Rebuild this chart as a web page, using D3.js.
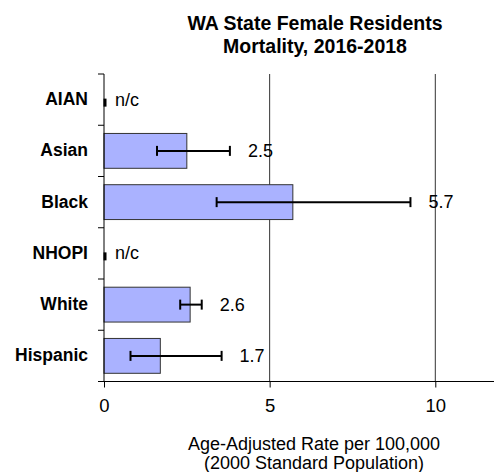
<!DOCTYPE html>
<html>
<head>
<meta charset="utf-8">
<script src="https://cdn.jsdelivr.net/npm/d3@7"></script>
<style>
  html, body { margin: 0; padding: 0; background: #fff; }
  svg { display: block; font-family: Arial, "Liberation Sans", sans-serif; }
</style>
</head>
<body>
<svg id="chart" width="494" height="472"></svg>
<script>
const categories = ["AIAN", "Asian", "Black", "NHOPI", "White", "Hispanic"];
const rates = [null, 2.5, 5.7, null, 2.6, 1.7];
const lowerCI = [null, 1.6, 3.4, null, 2.3, 0.8];
const upperCI = [null, 3.8, 9.25, null, 2.95, 3.55];
const valueLabels = ["n/c", "2.5", "5.7", "n/c", "2.6", "1.7"];
const xTicks = [0, 5, 10];
const titleLines = ["WA State Female Residents", "Mortality, 2016-2018"];
const xTitleLines = ["Age-Adjusted Rate per 100,000", "(2000 Standard Population)"];

(function () {
const svg = d3.select("#chart");
const mLeft = 104, mTop = 74, mBottom = 381.5;
const x = d3.scaleLinear().domain([0, 12]).range([mLeft, mLeft + 12 * 33.13]);
const y = d3.scaleBand().domain(categories).range([mTop, mBottom]).paddingInner(0.32).paddingOuter(0.16);

// gridlines
svg.append("g").selectAll("line").data(xTicks.filter(d => d > 0)).join("line")
  .attr("x1", d => x(d)).attr("x2", d => x(d))
  .attr("y1", mTop).attr("y2", mBottom)
  .attr("stroke", "#333").attr("stroke-width", 1);

const rows = categories.map((c, i) => ({ c, v: rates[i], lo: lowerCI[i], hi: upperCI[i], lab: valueLabels[i] }));

// bars
svg.append("g").selectAll("rect").data(rows.filter(d => d.v != null)).join("rect")
  .attr("x", x(0)).attr("y", d => y(d.c))
  .attr("width", d => x(d.v) - x(0)).attr("height", y.bandwidth())
  .attr("fill", "#aab2ff").attr("stroke", "#333").attr("stroke-width", 1);

// zero marks for n/c
svg.append("g").selectAll("rect").data(rows.filter(d => d.v == null)).join("rect")
  .attr("x", x(0) - 0.5).attr("y", d => y(d.c) + y.bandwidth() / 2 - 1)
  .attr("width", 3).attr("height", 8).attr("fill", "#000");

// error bars
const eb = svg.append("g").attr("stroke", "#000").attr("stroke-width", 2);
rows.filter(d => d.v != null).forEach(d => {
  const cy = y(d.c) + y.bandwidth() / 2;
  eb.append("line").attr("x1", x(d.lo)).attr("x2", x(d.hi)).attr("y1", cy).attr("y2", cy);
  eb.append("line").attr("x1", x(d.lo)).attr("x2", x(d.lo)).attr("y1", cy - 5).attr("y2", cy + 5);
  eb.append("line").attr("x1", x(d.hi)).attr("x2", x(d.hi)).attr("y1", cy - 5).attr("y2", cy + 5);
});

// value labels
svg.append("g").selectAll("text").data(rows).join("text")
  .attr("x", d => d.v == null ? x(0) + 11 : x(d.hi) + 18)
  .attr("y", d => y(d.c) + y.bandwidth() / 2 + 6)
  .attr("font-size", 18).attr("fill", "#000")
  .text(d => d.lab);

// left axis
const yAxis = d3.axisLeft(y).tickSize(0).tickPadding(16);
const ga = svg.append("g").attr("transform", `translate(${mLeft},0)`).call(yAxis);
ga.select(".domain").remove();
ga.selectAll("text").attr("font-size", 17.5).attr("font-weight", "bold").attr("fill", "#000")
  .attr("font-family", "Arial, 'Liberation Sans', sans-serif");
svg.append("line").attr("x1", mLeft).attr("x2", mLeft).attr("y1", mTop).attr("y2", mBottom).attr("stroke", "#000");
const bounds = categories.map(c => y(c) - y.step() * y.paddingInner() / 2);
svg.append("g").selectAll("line").data(bounds).join("line")
  .attr("x1", mLeft - 6).attr("x2", mLeft).attr("y1", d => d).attr("y2", d => d)
  .attr("stroke", "#000");

// bottom axis
const xAxis = d3.axisBottom(x).tickValues(xTicks).tickSize(6).tickPadding(11).tickSizeOuter(0);
const gx = svg.append("g").attr("transform", `translate(0,${mBottom})`).call(xAxis);
gx.select(".domain").remove();
gx.selectAll("text").attr("font-size", 18.5).attr("fill", "#000")
  .attr("font-family", "Arial, 'Liberation Sans', sans-serif");
svg.append("line").attr("x1", mLeft - 6).attr("x2", 494).attr("y1", mBottom).attr("y2", mBottom).attr("stroke", "#000");

// title
svg.append("g").selectAll("text").data(titleLines).join("text")
  .attr("x", 315).attr("y", (d, i) => 30 + i * 23)
  .attr("text-anchor", "middle").attr("font-size", 19.5).attr("font-weight", "bold")
  .text(d => d);

// x axis title
svg.append("g").selectAll("text").data(xTitleLines).join("text")
  .attr("x", 314).attr("y", (d, i) => 450 + i * 19)
  .attr("text-anchor", "middle").attr("font-size", 18)
  .text(d => d);
})();
</script>
</body>
</html>
